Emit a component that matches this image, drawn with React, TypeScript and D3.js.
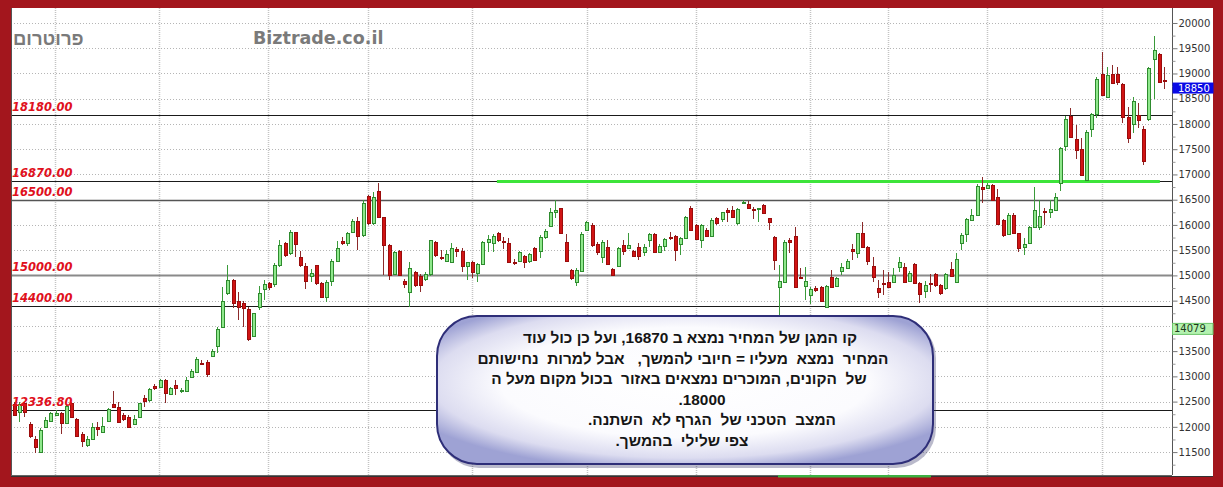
import React, { useEffect, useRef } from 'react';
import * as d3 from 'd3';

const opens = [
  12455,12290,12480,12060,11755,11510,11993,12125,12230,12283,
  12085,12480,12150,11860,11643,11755,12006,11893,12125,12455,
  12389,12237,12190,12059,12204,12567,12534,12818,12785,12930,
  12653,12831,12718,12718,12983,13082,13273,13293,13405,13603,
  13986,14646,14910,14501,14461,14329,13808,14382,14725,14844,
  14831,15200,15636,15438,15854,15372,15194,14989,15200,14857,
  14567,14890,15293,15682,15636,15867,16085,15801,16573,16032,
  16679,16151,15603,15029,15491,14890,14666,15062,14996,14923,
  15022,15656,15372,15286,15273,15517,15484,15194,15260,15042,
  15220,15669,15636,15834,15682,15636,15273,15286,15378,15286,
  15537,15484,15768,15986,16250,16329,15669,15101,14877,15088,
  15900,15999,15616,15372,15570,15128,15194,15603,15537,15484,
  15570,15458,15702,15827,15471,15590,15768,15788,15616,15748,
  16342,15999,15702,15900,15788,16144,16118,16289,16296,16032,
  16428,16408,16316,16309,16395,16131,15768,14778,14877,15701,
  15780,14975,14790,14612,14757,14763,14367,14975,14790,15093,
  15140,15516,15437,15833,15556,15186,14744,14843,14876,14876,
  15160,15173,14896,15226,14843,14697,14856,15028,14810,14744,
  15120,14876,15635,15820,16097,16196,16744,16724,16790,16559,
  16097,15820,16196,15833,15556,15648,15965,15952,16282,16262,
  16295,16837,17563,18157,17695,17497,16890,17893,18197,18989,
  18540,18989,18989,18791,18131,17999,18177,17893,18091,19280,
  19385,18875,
];
const highs = [
  12500,12500,12500,12105,11810,11975,12190,12300,12336,12300,
  12435,12500,12170,11905,11810,12072,12105,12190,12375,12718,
  12500,12283,12237,12237,12481,12633,12765,12844,12950,12950,
  12798,12930,12765,12996,13141,13392,13326,13326,13537,13986,
  14765,15207,14923,14679,14501,14369,14263,14791,14910,14877,
  15240,15702,15662,15900,15867,15491,15240,15121,15207,14877,
  14910,15319,15682,15768,15867,16111,16151,16494,16593,16659,
  16824,16164,15623,15491,15504,14930,15273,15088,15022,15062,
  15702,15682,15504,15504,15636,15570,15537,15273,15286,15240,
  15682,15801,15814,15854,15768,15748,15326,15484,15405,15438,
  15570,15801,15920,16329,16494,16342,15814,15128,15141,15854,
  16078,16032,15669,15702,15702,15154,15570,15702,15834,15504,
  15636,15616,15834,15834,15616,15748,15867,15801,15768,16183,
  16382,16012,16012,15933,16131,16164,16263,16329,16382,16329,
  16494,16474,16362,16342,16408,16144,15788,15207,15702,15734,
  15952,15140,15173,14777,14790,14790,14810,15107,14975,15239,
  15318,15622,15846,16064,15582,15371,14909,15107,15074,15140,
  15358,15239,15093,15239,14876,14896,15028,15054,14829,15054,
  15272,15437,15833,16130,16308,16810,16956,16824,16810,16705,
  16110,16242,16229,15846,15734,15978,16758,16493,16328,16493,
  16625,17550,18157,18309,17979,17715,17880,18223,18937,19432,
  19135,19168,19135,18818,18329,18540,18408,17959,19135,19742,
  19412,19122,
];
const lows = [
  12205,12100,12200,11775,11490,11480,11975,12105,12217,11860,
  12072,12170,11795,11610,11610,11742,11810,11874,12105,12402,
  12085,12125,11973,12040,12190,12389,12500,12732,12765,12468,
  12633,12633,12666,12699,12963,13062,13220,12983,13392,13471,
  13953,14613,14349,14118,13986,13709,13788,14316,14514,14712,
  14765,15161,15372,15405,15372,15161,14725,14877,14804,14547,
  14481,14791,15273,15603,15583,15834,15504,15755,16000,16000,
  16131,15009,14910,15009,14995,14745,14382,14778,14679,14890,
  14996,15372,15306,15273,15240,15372,15062,14910,14943,14877,
  15207,15471,15458,15669,15524,15240,15207,15260,15154,15240,
  15286,15339,15722,15966,16131,15814,15273,14910,14798,15062,
  15880,15570,15405,15240,15207,14996,15174,15405,15524,15372,
  15306,15392,15570,15438,15458,15484,15702,15286,15405,15722,
  15880,15702,15550,15768,15768,15999,16065,16065,16144,15999,
  16408,16316,16118,16052,16210,15900,15108,14217,14844,15437,
  14777,14922,14513,14433,14678,14479,14347,14763,14763,15008,
  15120,15305,15338,15556,15206,14876,14546,14612,14744,14863,
  15074,14843,14876,14829,14460,14546,14678,14777,14612,14711,
  14975,14856,15503,15668,16084,16176,16427,16705,16480,15998,
  15754,15800,15833,15470,15404,15622,15952,15899,16000,16130,
  16282,16678,17471,17735,17299,16969,16876,17748,18111,18553,
  18527,18791,18771,18025,17629,17814,17913,17187,18065,18487,
  18817,18685,
];
const closes = [
  12237,12448,12300,11810,11610,11940,12138,12270,12283,12072,
  12415,12190,11810,11710,11760,12006,11953,12020,12362,12402,
  12105,12152,12006,12150,12468,12521,12745,12765,12930,12666,
  12765,12765,12725,12930,13115,13339,13240,13049,13504,13933,
  14501,14910,14461,14382,14349,13735,14250,14646,14831,14778,
  15200,15603,15405,15854,15623,15207,14897,15042,14857,14567,
  14877,15293,15537,15649,15847,16085,15781,16441,16032,16560,
  16151,15603,15009,15458,15009,14837,15154,14811,14811,15022,
  15695,15405,15339,15418,15537,15491,15187,15260,15062,15220,
  15656,15722,15788,15702,15656,15260,15240,15471,15273,15418,
  15306,15768,15880,16250,16296,15834,15286,14956,15108,15827,
  16052,15603,15471,15669,15220,15009,15537,15484,15603,15392,
  15392,15570,15814,15458,15590,15722,15735,15504,15748,16157,
  15900,15722,15999,15788,16098,16032,16250,16263,16164,16316,
  16461,16342,16289,16329,16230,16065,15306,14890,15669,15668,
  14777,14942,14896,14724,14711,14499,14790,14777,14942,15160,
  15292,15490,15833,15569,15292,14975,14678,14829,14763,15008,
  15272,14876,15054,14843,14632,14810,14829,14810,14645,15028,
  14988,15318,15800,16110,16196,16771,16705,16790,16493,16018,
  15800,16196,15846,15536,15622,15952,16295,16176,16249,16308,
  16546,17517,18091,17748,17484,16989,17847,18197,18884,18573,
  18970,18804,18837,18131,17715,18461,18078,17272,19102,19465,
  18837,18850,
];

// right-axis labels (14000 is covered by the cursor tag in the reference)
const yTickLabels = [11500,12000,12500,13000,13500,14500,15000,15500,16000,16500,17000,17500,18000,18500,19000,19500,20000];
const yTickMarks = [11500,12000,12500,13000,13500,14000,14500,15000,15500,16000,16500,17000,17500,18000,18500,19000,19500,20000];
const yMinorTicks = [11250,11750,12250,12750,13250,13750,14250,14750,15250,15750,16250,16750,17250,17750,18250,18750,19250,19750];
const levelValues = [18180, 16870, 16500, 15000, 14400, 12336.8];
const levelLabels = ['18180.00', '16870.00', '16500.00', '15000.00', '14400.00', '12336.80'];
const monthGridIdx = [7.9, 27.9, 48.8, 68, 88, 110.1, 131, 153, 168, 187, 209];
const supportValue = 16860;
const supportFromIdx = 92.8;
const supportToIdx = 220.2;
const lastPrice = 18850;
const cursorPrice = 14079;
const RLM = '\u200F';
const noteLines = [
  'קו המגן של המחיר נמצא ב 16870, ועל כן כול עוד',
  'המחיר  נמצא  מעליו = חיובי להמשך,   אבל למרות  נחישותם',
  'של  הקונים, המוכרים נמצאים באזור  בכול מקום מעל ה',
  RLM + '18000.' + RLM,
  'המצב  הטכני של  הגרף לא  השתנה.',
  'צפי שלילי  בהמשך.',
];
const noteCenters = [690, 683, 679, 702, 712, 682];

const W = 1223, H = 487;
const PL = 11, PR = 1172, PT = 8, PB = 475;

export default function App() {
  const axisRef = useRef<SVGGElement>(null);
  const markRef = useRef<SVGGElement>(null);
  const minorRef = useRef<SVGGElement>(null);
  const y = d3.scaleLinear().domain([11046, 20297]).range([PB, PT]);
  const x = d3.scaleLinear().domain([0, opens.length - 1]).range([14, 1164]);

  useEffect(() => {
    if (markRef.current) {
      const g = d3.select(markRef.current);
      g.call(d3.axisRight(y).tickValues(yTickMarks).tickSize(5).tickFormat(() => '') as any);
      g.select('.domain').remove();
      g.selectAll('line').attr('stroke', '#777');
      g.selectAll('text').remove();
    }
    if (axisRef.current) {
      const g = d3.select(axisRef.current);
      g.call(d3.axisRight(y).tickValues(yTickLabels).tickSize(0).tickPadding(6).tickFormat(d3.format('d')) as any);
      g.select('.domain').remove();
      g.selectAll('line').remove();
      g.selectAll('text').attr('font-family', 'DejaVu Sans').attr('font-size', 10).attr('fill', '#333');
    }
    if (minorRef.current) {
      const g = d3.select(minorRef.current);
      g.call(d3.axisRight(y).tickValues(yMinorTicks).tickSize(3).tickFormat(() => '') as any);
      g.select('.domain').remove();
      g.selectAll('line').attr('stroke', '#999');
      g.selectAll('text').remove();
    }
  }, []);

  const levelStyle = (v: number) => {
    if (v === 15000) return { stroke: '#8a8a8a', w: 2 };
    if (v === 16500) return { stroke: '#555', w: 1.5 };
    return { stroke: '#1a1a1a', w: 1.2 };
  };

  return (
    <div style={{ position: 'absolute', left: 0, top: 0 }}>
      <svg width={W} height={H} style={{ display: 'block' }}>
        <defs>
          <radialGradient id="boxGrad" cx="50%" cy="45%" r="60%">
            <stop offset="0%" stopColor="#ffffff" />
            <stop offset="62%" stopColor="#fbfbfe" />
            <stop offset="85%" stopColor="#dcdcf0" />
            <stop offset="100%" stopColor="#9ea2d4" />
          </radialGradient>
          <clipPath id="plotClip">
            <rect x={PL} y={PT} width={PR - PL} height={PB - PT} />
          </clipPath>
        </defs>
        <rect x={0} y={0} width={W} height={H} fill="#a3161d" />
        <rect x={PL} y={PT} width={1213 - PL} height={477 - PT} fill="#ffffff" />

        <g clipPath="url(#plotClip)">
          {yTickMarks.map((t) => (
            <line key={'h' + t} x1={PL} x2={PR} y1={Math.round(y(t)) + 0.5} y2={Math.round(y(t)) + 0.5}
              stroke="#b5b5b5" strokeDasharray="1,2" />
          ))}
          {monthGridIdx.map((m, i) => (
            <line key={'v' + i} x1={Math.round(x(m)) + 0.5} x2={Math.round(x(m)) + 0.5} y1={PT} y2={PB}
              stroke="#c4c4c4" strokeWidth={1.5} strokeDasharray="1,1" />
          ))}
          {levelValues.map((v) => {
            const s = levelStyle(v);
            return (
              <line key={'l' + v} x1={PL} x2={PR} y1={Math.round(y(v)) + 0.5} y2={Math.round(y(v)) + 0.5}
                stroke={s.stroke} strokeWidth={s.w} />
            );
          })}
          <line x1={x(supportFromIdx)} x2={x(supportToIdx)} y1={y(supportValue)} y2={y(supportValue)}
            stroke="#3de43a" strokeWidth={3} />
          {opens.map((o, i) => {
            const c = closes[i];
            const up = c >= o;
            const cx = Math.round(x(i));
            const top = Math.round(y(Math.max(o, c)));
            const bot = Math.round(y(Math.min(o, c)));
            return (
              <g key={'c' + i} shapeRendering="crispEdges">
                <line x1={cx + 0.5} x2={cx + 0.5} y1={y(highs[i])} y2={y(lows[i])}
                  stroke={up ? '#3a9a3a' : '#8c2a2a'} strokeWidth={1} />
                <rect x={cx - 1} y={top} width={3} height={Math.max(1, bot - top)}
                  fill={up ? '#8fe88c' : '#d01414'} stroke={up ? '#2e8b2e' : '#9a0c0c'} strokeWidth={1} />
              </g>
            );
          })}
          {levelValues.map((v, i) => (
            <text key={'t' + v} x={12} y={Math.round(y(v)) - 4} fill="#e0101c" fontFamily="DejaVu Sans"
              fontWeight="bold" fontStyle="italic" fontSize={11.5}>{levelLabels[i]}</text>
          ))}
        </g>

        <text x={13} y={45} fill="#7a7a7a" fontFamily="Liberation Sans" fontWeight="bold" fontSize={18.5}
          style={{ direction: 'rtl', unicodeBidi: 'plaintext' } as any} textAnchor="end">פרוטרום</text>
        <text x={253} y={44} fill="#7a7a7a" fontFamily="DejaVu Sans" fontWeight="bold" fontSize={17.5}>Biztrade.co.il</text>

        {/* frame */}
        <line x1={PL + 0.5} x2={PL + 0.5} y1={PT} y2={PB} stroke="#555" />
        <line x1={PL} x2={PR} y1={PB + 0.5} y2={PB + 0.5} stroke="#666" />
        <line x1={PL} x2={1213} y1={476.5} y2={476.5} stroke="#333" />
        <line x1={PR + 0.5} x2={PR + 0.5} y1={PT} y2={PB} stroke="#555" />
        <rect x={778} y={475} width={153} height={2.5} fill="#3cb043" />

        <g ref={minorRef} transform={`translate(${PR + 0.5},0)`} />
        <g ref={markRef} transform={`translate(${PR + 0.5},0)`} />
        <g ref={axisRef} transform={`translate(${PR + 0.5},0)`} />

        {/* price tags */}
        <rect x={PR + 0.5} y={y(lastPrice) + 1.5} width={41} height={11} fill="#0a0ae6" />
        <text x={1178} y={y(lastPrice) + 10.5} fill="#ffffff" fontFamily="DejaVu Sans" fontSize={10}>{lastPrice}</text>
        <rect x={PR + 0.5} y={y(cursorPrice) + 1.5} width={40.5} height={11} fill="#b4f2b0" stroke="#6cc46a" />
        <text x={1174} y={y(cursorPrice) + 10.5} fill="#1c3a1c" fontFamily="DejaVu Sans" fontSize={10}>{cursorPrice}</text>

        {/* callout */}
        <rect x={439} y={318} width={497} height={150} rx={40} ry={40} fill="#3a3a6a" opacity={0.35} />
        <rect x={437} y={316} width={496} height={148} rx={40} ry={40} fill="url(#boxGrad)" stroke="#2e2e78" strokeWidth={2} />
        {noteLines.map((ln, i) => (
          <text key={'n' + i} x={noteCenters[i]} y={343 + i * 20.6} textAnchor="middle" fill="#151515"
            fontFamily="Liberation Sans" fontWeight="bold" fontSize={15.4}
            style={{ direction: 'rtl', whiteSpace: 'pre' } as any}>{ln}</text>
        ))}
      </svg>
    </div>
  );
}
